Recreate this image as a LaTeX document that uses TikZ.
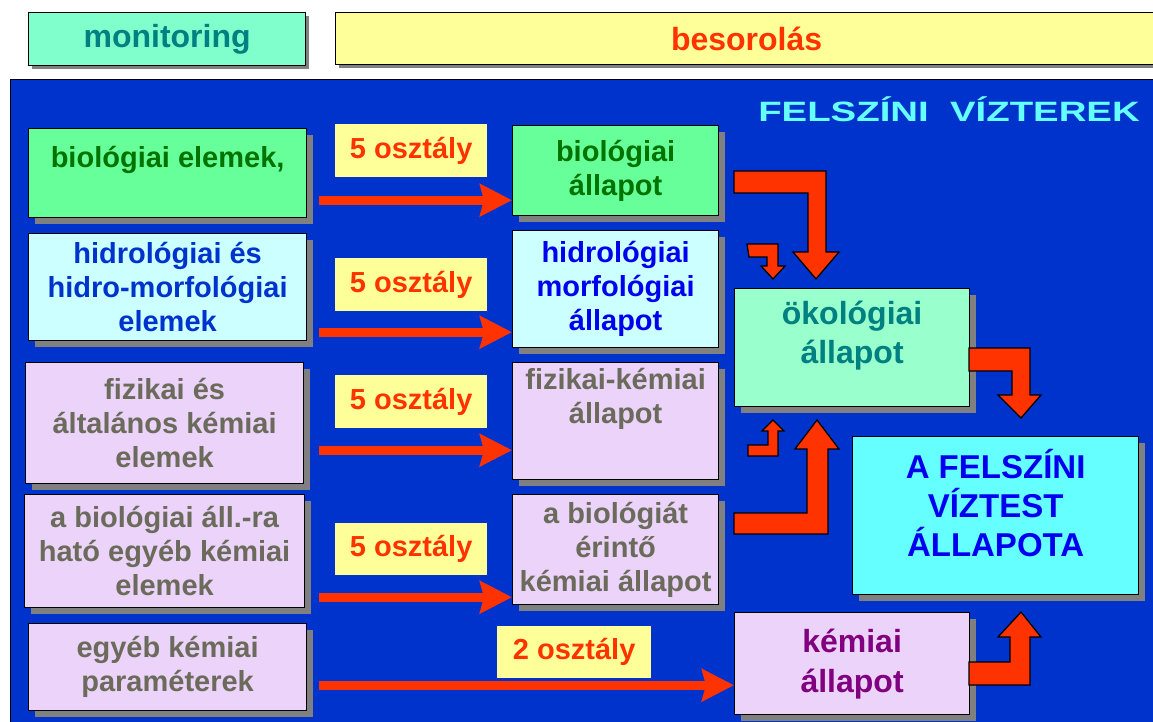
\documentclass[tikz,border=0pt]{standalone}
\usepackage{fontspec}
\setmainfont{Liberation Sans}
\usepackage{graphicx}
\usetikzlibrary{arrows.meta,shadows}
\definecolor{panelblue}{HTML}{0033CC}
\definecolor{shgray}{HTML}{808080}
\definecolor{monfill}{HTML}{80FFCC}
\definecolor{labyellow}{HTML}{FFFF99}
\definecolor{labred}{HTML}{FF3300}
\definecolor{arrred}{HTML}{FF3300}
\definecolor{titcyan}{HTML}{66FFFF}
\definecolor{greenfill}{HTML}{66FF99}
\definecolor{greentxt}{HTML}{007300}
\definecolor{cyanfill}{HTML}{CCFFFF}
\definecolor{hydblue}{HTML}{0033CC}
\definecolor{pureblue}{HTML}{0000EE}
\definecolor{lilac}{HTML}{EBD3FA}
\definecolor{graytxt}{HTML}{6B6B5B}
\definecolor{okofill}{HTML}{99FFCC}
\definecolor{tealtxt}{HTML}{008080}
\definecolor{purpletxt}{HTML}{800080}
\definecolor{felfill}{HTML}{66FFFF}
\begin{document}
\begin{tikzpicture}[x=1pt,y=-1pt,
  box/.style={draw=black, line width=1.2pt, anchor=north west, inner sep=0pt, align=center,
    font=\fontsize{29}{34}\selectfont\bfseries,
    drop shadow={shadow xshift=6pt, shadow yshift=-6pt, fill=shgray, opacity=1}},
  hbox/.style={draw=black, line width=1.2pt, anchor=north west, inner sep=0pt, align=center,
    font=\fontsize{32}{38}\selectfont\bfseries,
    drop shadow={shadow xshift=3pt, shadow yshift=-3pt, fill=shgray, opacity=1}},
  lab/.style={fill=labyellow, anchor=north west, inner sep=0pt, text=labred,
    font=\fontsize{29}{34}\selectfont\bfseries},
  harrow/.style={draw=arrred, line width=9pt, -{Stealth[length=32pt,width=32pt,inset=4pt]}},
  bent/.style={fill=arrred, draw=black, line width=1.3pt, line join=miter},
]
\useasboundingbox (0,0) rectangle (1153,722);
\fill[white] (0,0) rectangle (1153,722);

% header
\node[hbox, fill=monfill, minimum width=277pt, minimum height=53pt, text=tealtxt] (mon) at (28,12) {\raisebox{-3pt}{monitoring}};
\node[hbox, fill=labyellow, minimum width=822pt, minimum height=52pt, text=labred] (bes) at (335,12) {\raisebox{-3pt}{besorolás}};

% panel
\fill[panelblue] (10,80) rectangle (1160,730);
\draw[black, line width=1pt] (10,730) -- (10,80) -- (1160,80);

\node[text=titcyan, font=\fontsize{28}{34}\selectfont\bfseries] (title) at (949,109)
  {\scalebox{1.37}[1]{FELSZÍNI\ \ VÍZTEREK}};

% left boxes
\node[box, fill=greenfill, text=greentxt, minimum width=278pt, minimum height=89pt] (l1) at (28,128) {biológiai elemek,\\[-12pt]\strut};
\node[box, fill=cyanfill, text=hydblue, minimum width=278pt, minimum height=107pt] (l2) at (28,233) {hidrológiai és\\hidro-morfológiai\\elemek};
\node[box, fill=lilac, text=graytxt, minimum width=278pt, minimum height=121pt] (l3) at (25,362) {fizikai és\\általános kémiai\\elemek};
\node[box, fill=lilac, text=graytxt, minimum width=280pt, minimum height=113pt] (l4) at (24,494) {a biológiai áll.-ra\\ható egyéb kémiai\\elemek};
\node[box, fill=lilac, text=graytxt, minimum width=278pt, minimum height=87pt] (l5) at (28,623) {egyéb kémiai\\paraméterek};

% right boxes
\node[box, fill=greenfill, text=greentxt, minimum width=206pt, minimum height=90pt] (r1) at (512,125) {biológiai\\állapot};
\node[box, fill=cyanfill, text=pureblue, minimum width=206pt, minimum height=117pt] (r2) at (512,230) {hidrológiai\\morfológiai\\állapot};
\node[box, fill=lilac, text=graytxt, minimum width=206pt, minimum height=117pt] (r3) at (512,362) {fizikai-kémiai\\állapot\\[7pt]\strut};
\node[box, fill=lilac, text=graytxt, minimum width=206pt, minimum height=110pt] (r4) at (512,494) {a biológiát\\érintő\\kémiai állapot};

\node[box, fill=okofill, text=tealtxt, minimum width=235pt, minimum height=118pt, font=\fontsize{32}{39}\selectfont\bfseries] (oko) at (734,288)
  {ökológiai\\állapot\\[-21pt]\strut};
\node[box, fill=lilac, text=purpletxt, minimum width=235pt, minimum height=102pt, font=\fontsize{32}{40}\selectfont\bfseries] (kem) at (734,612)
  {kémiai\\állapot};
\node[box, fill=felfill, text=pureblue, minimum width=286pt, minimum height=158pt, font=\fontsize{33}{39}\selectfont\bfseries] (fel) at (852,436)
  {A FELSZÍNI\\VÍZTEST\\ÁLLAPOTA\\[-25pt]\strut};

% class labels
\node[lab, minimum width=152pt, minimum height=53pt] (lab1) at (335,124) {5 osztály};
\node[lab, minimum width=152pt, minimum height=53pt] (lab2) at (335,258) {5 osztály};
\node[lab, minimum width=152pt, minimum height=53pt] (lab3) at (335,375) {5 osztály};
\node[lab, minimum width=152pt, minimum height=52pt] (lab4) at (335,523) {5 osztály};
\node[lab, minimum width=154pt, minimum height=52pt] (lab5) at (497,626) {2 osztály};

% horizontal arrows
\coordinate (ax) at (319,0);
\path ([yshift=18pt]l1.south) coordinate (a1);
\path ([yshift=9pt]l2.south) coordinate (a2);
\path ([yshift=34pt]l3.south) coordinate (a3);
\path ([yshift=11pt]l4.south) coordinate (a4);
\path ([yshift=26pt]l5.south) coordinate (a5);
\draw[harrow] (a1 -| ax) -- (a1 -| r1.west);
\draw[harrow] (a2 -| ax) -- (a2 -| r2.west);
\draw[harrow] (a3 -| ax) -- (a3 -| r3.west);
\draw[harrow] (a4 -| ax) -- (a4 -| r4.west);
\draw[harrow] (a5 -| ax) -- (a5 -| kem.west);

% bent block arrows
\draw[bent] (734,171) -- (826,171) -- (826,252) -- (839,252) -- (816,279) -- (793,252) -- (808,252) -- (808,193) -- (734,193) -- cycle;
\draw[bent] (747,244) -- (778,244) -- (778,266) -- (785,266) -- (773,279) -- (761,266) -- (767,266) -- (767,257) -- (749,257) -- cycle;
\draw[bent] (748,456) -- (778,456) -- (778,431) -- (784,431) -- (773,420) -- (762,431) -- (768,431) -- (768,445) -- (748,445) -- cycle;
\draw[bent] (734,534) -- (828,534) -- (828,449) -- (839,449) -- (817,420) -- (795,449) -- (807,449) -- (807,513) -- (734,513) -- cycle;
\draw[bent] (969,348) -- (1030,348) -- (1030,395) -- (1041,395) -- (1021,418) -- (998,395) -- (1012,395) -- (1012,371) -- (969,371) -- cycle;
\draw[bent] (969,685) -- (1030,685) -- (1030,637) -- (1041,637) -- (1021,612) -- (998,637) -- (1010,637) -- (1010,662) -- (969,662) -- cycle;
\end{tikzpicture}
\end{document}
